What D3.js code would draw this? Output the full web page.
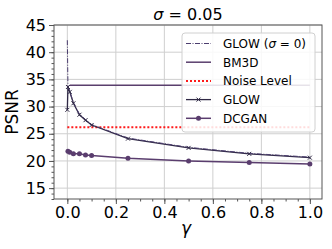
<!DOCTYPE html>
<html><head><meta charset="utf-8">
<script src="https://cdn.jsdelivr.net/npm/d3@7"></script>
<style>body{margin:0;background:#fff}svg{display:block;font-family:"DejaVu Sans",sans-serif}</style>
</head><body><svg id="c" width="332" height="249"></svg>
<script>
const gammaGlow = [0, 0.0025, 0.01, 0.025, 0.05, 0.075, 0.1, 0.25, 0.5, 0.75, 1.0];
const psnrGlow = [29.4, 33.6, 32.7, 30.6, 28.5, 27.5, 26.6, 24.1, 22.4, 21.3, 20.6];
const gammaGlow0 = [0, 0.0025, 0.01, 0.025, 0.05, 0.075, 0.1, 0.25, 0.5, 0.75, 1.0];
const psnrGlow0 = [42.2, 33.8, 32.8, 30.7, 28.6, 27.6, 26.7, 24.2, 22.5, 21.4, 20.7];
const gammaDcgan = [0.0025, 0.01, 0.025, 0.05, 0.075, 0.1, 0.25, 0.5, 0.75, 1.0];
const psnrDcgan = [21.8, 21.6, 21.3, 21.3, 21.1, 21.0, 20.5, 20.0, 19.7, 19.45];
const gammaBm3d = [0.01, 1.0];
const psnrBm3d = [33.9, 33.9];
const gammaNoise = [0, 1.0];
const psnrNoise = [26.2, 26.2];
const xTicks = [0, 0.2, 0.4, 0.6, 0.8, 1.0];
const yTicks = [15, 20, 25, 30, 35, 40, 45];
const legendLabels = ["GLOW (σ = 0)", "BM3D", "Noise Level", "GLOW", "DCGAN"];

const svg = d3.select("#c");
const L = 54, R = 322, T = 25, B = 199;
const x = d3.scaleLinear().domain([-0.055, 1.05]).range([L, R]);
const y = d3.scaleLinear().domain([13, 45]).range([B, T]);

// grid
svg.append("g").selectAll("line").data(xTicks).join("line")
  .attr("x1", d => x(d)).attr("x2", d => x(d)).attr("y1", T).attr("y2", B)
  .attr("stroke", "#cfcfcf").attr("stroke-width", 1);
svg.append("g").selectAll("line").data(yTicks).join("line")
  .attr("x1", L).attr("x2", R).attr("y1", d => y(d)).attr("y2", d => y(d))
  .attr("stroke", "#cfcfcf").attr("stroke-width", 1);

// axes
const xAxis = d3.axisBottom(x).tickValues(xTicks).tickFormat(d3.format(".1f")).tickSize(5).tickPadding(3);
const xMinor = d3.axisBottom(x).tickValues(d3.range(0, 1.0001, 0.05)).tickFormat("").tickSize(2.5);
const yAxis = d3.axisLeft(y).tickValues(yTicks).tickSize(5).tickPadding(3);
const yMinor = d3.axisLeft(y).tickValues(d3.range(13, 45.001, 1)).tickFormat("").tickSize(2.5);
function style(g){g.select(".domain").remove();g.selectAll("line").attr("stroke","#555");g.selectAll("text").attr("font-size",16).attr("fill","#000").attr("font-family","DejaVu Sans");}
svg.append("g").attr("transform",`translate(0,${B})`).call(xMinor).call(style);
svg.append("g").attr("transform",`translate(0,${B})`).call(xAxis).call(style);
svg.append("g").attr("transform",`translate(${L},0)`).call(yMinor).call(style);
svg.append("g").attr("transform",`translate(${L},0)`).call(yAxis).call(style);

const line = d3.line().x(d => x(d[0])).y(d => y(d[1]));
const zip = (a, b) => a.map((v, i) => [v, b[i]]);

const cGlow = "#2f2845", cDc = "#5a3d6e", cBm = "#5a3f6d", cG0 = "#4b3d6e";

svg.append("path").datum(zip(gammaNoise, psnrNoise)).attr("d", line)
  .attr("fill","none").attr("stroke","#ff1a1a").attr("stroke-width",2).attr("stroke-dasharray","2,2");
svg.append("path").datum(zip(gammaBm3d, psnrBm3d)).attr("d", line)
  .attr("fill","none").attr("stroke",cBm).attr("stroke-width",1.5);
svg.append("path").datum(zip(gammaGlow, psnrGlow)).attr("d", line)
  .attr("fill","none").attr("stroke",cGlow).attr("stroke-width",1.3);
svg.append("path").datum(zip(gammaGlow0, psnrGlow0)).attr("d", line)
  .attr("fill","none").attr("stroke",cG0).attr("stroke-width",1).attr("stroke-dasharray","5,1.5,1,1.5");
svg.append("path").datum(zip(gammaDcgan, psnrDcgan)).attr("d", line)
  .attr("fill","none").attr("stroke",cDc).attr("stroke-width",1.5);

function xMark(g, cx, cy, s, col){
  g.append("path").attr("d",`M${cx-s},${cy-s}L${cx+s},${cy+s}M${cx-s},${cy+s}L${cx+s},${cy-s}`)
   .attr("stroke",col).attr("stroke-width",1).attr("fill","none");
}
const gm = svg.append("g");
zip(gammaGlow, psnrGlow).forEach(d => xMark(gm, x(d[0]), y(d[1]), 2, cGlow));
svg.append("g").selectAll("circle").data(zip(gammaDcgan, psnrDcgan)).join("circle")
  .attr("cx", d => x(d[0])).attr("cy", d => y(d[1])).attr("r", 2.5).attr("fill", cDc);

// spines
svg.append("rect").attr("x",L).attr("y",T).attr("width",R-L).attr("height",B-T)
  .attr("fill","none").attr("stroke","#555").attr("stroke-width",1);

// legend
const lg = svg.append("g");
lg.append("rect").attr("x",182).attr("y",33).attr("width",133).attr("height",99).attr("rx",3)
  .attr("fill","#fff").attr("fill-opacity",0.85).attr("stroke","#d0d0d0");
const ly0 = 43.5, ldy = 18.7, hx1 = 186, hx2 = 211;
legendLabels.forEach((lab, i) => {
  const yy = ly0 + i*ldy;
  const p = lg.append("line").attr("x1",hx1).attr("x2",hx2).attr("y1",yy).attr("y2",yy);
  if (i===0) p.attr("stroke",cG0).attr("stroke-width",1).attr("stroke-dasharray","5,1.5,1,1.5");
  if (i===1) p.attr("stroke",cBm).attr("stroke-width",1.5);
  if (i===2) p.attr("stroke","#ff1a1a").attr("stroke-width",2).attr("stroke-dasharray","2,2");
  if (i===3) { p.attr("stroke",cGlow).attr("stroke-width",1.3); xMark(lg,(hx1+hx2)/2,yy,2,cGlow); }
  if (i===4) { p.attr("stroke",cDc).attr("stroke-width",1.5); lg.append("circle").attr("cx",(hx1+hx2)/2).attr("cy",yy).attr("r",2.5).attr("fill",cDc); }
  const t = lg.append("text").attr("x",223).attr("y",yy+4.3).attr("font-size",12).attr("fill","#000");
  if (i===0) { t.text("GLOW ("); t.append("tspan").attr("font-style","italic").text("σ"); t.append("tspan").text(" = 0)"); }
  else t.text(lab);
});

// title and labels
const title = svg.append("text").attr("x",188).attr("y",20).attr("text-anchor","middle").attr("font-size",16);
title.append("tspan").attr("font-style","italic").text("σ");
title.append("tspan").text(" = 0.05");
svg.append("text").attr("transform","translate(18,112) rotate(-90)").attr("text-anchor","middle")
  .attr("font-size",17).text("PSNR");
svg.append("text").attr("x",186).attr("y",234).attr("text-anchor","middle").attr("font-size",17)
  .attr("font-style","italic").text("γ");
</script></body></html>
